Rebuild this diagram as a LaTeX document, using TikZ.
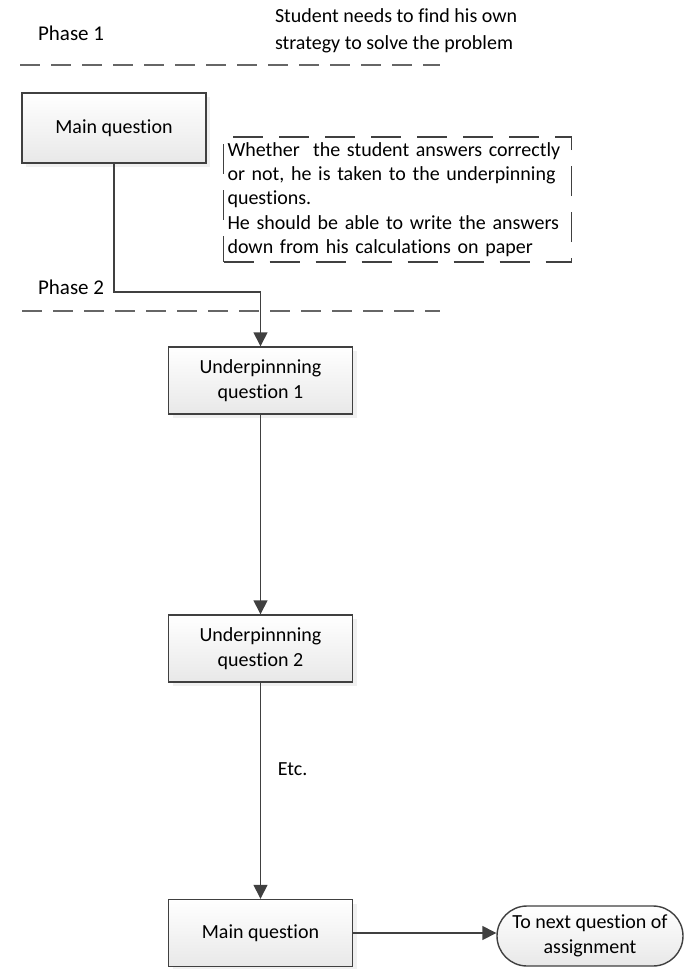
\documentclass[tikz,border=0pt]{standalone}
\usepackage{fontspec}
\setmainfont[Ligatures=NoCommon]{Carlito}
\usetikzlibrary{arrows.meta,shadows}

\begin{document}
\begin{tikzpicture}[x=0.5pt, y=-0.5pt, font=\fontsize{10}{12.2}\selectfont,
	line/.style={draw=black!75, line width=0.7pt},
	qbox/.style={line, rectangle, top color=white, bottom color=black!9, minimum width=92pt, minimum height=33.5pt, align=center,
	  drop shadow={opacity=0.12, shadow xshift=2pt, shadow yshift=-2pt}},
	flow/.style={line, -{Triangle[length=7pt,width=7pt]}},
	phaseline/.style={draw=black!60, line width=0.8pt, dash pattern=on 10pt off 5.5pt}]
	\useasboundingbox (0,0) rectangle (688,969);
	% phase 1
	\node[anchor=west, font=\fontsize{10.5}{13}\selectfont] (ph1) at (31,33) {Phase 1};
	\node[anchor=west, align=left, font=\fontsize{10}{13.5}\selectfont] (hint) at (268,31) {Student needs to find his own\\strategy to solve the problem};
	\draw[phaseline] (20,65) -- (440,65);
	\node[qbox, minimum height=35pt] (mq1) at (114,128) {Main question};
	\node[draw=black!75, line width=0.7pt, dash pattern=on 15pt off 8pt, text width=170pt, minimum height=62.5pt, inner sep=2pt, align=left] (note) at (397.5,199.5)
	  {Whether\ \ the student answers correctly\\or not, he is taken to the underpinning\\questions.\\He should be able to write the answers\\down from his calculations on paper};
	% phase 2
	\node[anchor=west, font=\fontsize{10.5}{13}\selectfont] (ph2) at (31,287) {Phase 2};
	\draw[phaseline] (22,311) -- (440,311);
	\node[qbox] (uq1) at (260.5,380.5) {Underpinnning\\question 1};
	\node[qbox] (uq2) at (260.5,648.5) {Underpinnning\\question 2};
	\node[qbox] (mq2) at (260.5,933) {Main question};
	\node[line, rounded corners=15pt, top color=white, bottom color=black!9, minimum width=93pt, minimum height=30pt, inner sep=1pt, align=center] (next) at (590,936)
	  {To next question of\\assignment};
	\coordinate (turn) at (260.5,292);
	\draw[flow] (mq1.south) |- (turn) -- (uq1.north);
	\draw[flow] (uq1) -- (uq2);
	\draw[flow] (uq2) -- node[right=5pt, pos=0.4] (etc) {Etc.} (mq2);
	\draw[flow] (mq2) -- (mq2 -| next.west);
\end{tikzpicture}
\end{document}
